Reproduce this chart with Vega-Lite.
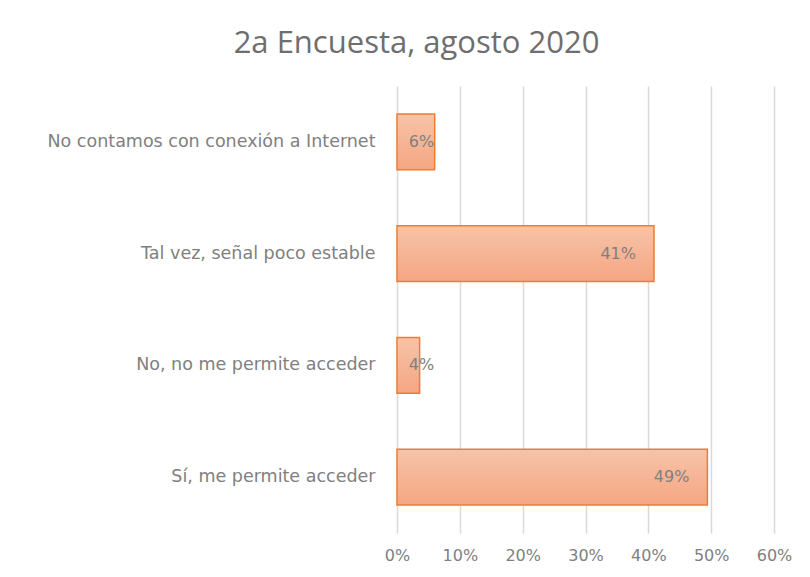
{
  "$schema": "https://vega.github.io/schema/vega-lite/v6.json",
  "width": 377,
  "height": 447,
  "autosize": {"type": "none"},
  "padding": {"left": 397, "top": 86, "right": 36, "bottom": 44},
  "background": "white",
  "title": {
    "text": "2a Encuesta, agosto 2020",
    "anchor": "middle",
    "dx": -169,
    "offset": 26,
    "font": "Open Sans",
    "fontSize": 31,
    "fontWeight": "normal",
    "color": "#6e6e6e"
  },
  "data": {
    "values": [
      {"cat": "No contamos con conexión a Internet", "value": 0.06, "label": "6%"},
      {"cat": "Tal vez, señal poco estable", "value": 0.409, "label": "41%"},
      {"cat": "No, no me permite acceder", "value": 0.036, "label": "4%"},
      {"cat": "Sí, me permite acceder", "value": 0.494, "label": "49%"}
    ]
  },
  "encoding": {
    "y": {
      "field": "cat",
      "type": "nominal",
      "sort": null,
      "scale": {"paddingInner": 0.5, "paddingOuter": 0.25},
      "axis": {
        "title": null,
        "domain": false,
        "ticks": false,
        "labelPadding": 22,
        "labelFont": "DejaVu Sans",
        "labelFontSize": 17.5,
        "labelColor": "#808080",
        "labelLimit": 400
      }
    }
  },
  "layer": [
    {
      "mark": {
        "type": "bar",
        "fill": {
          "gradient": "linear",
          "x1": 0, "y1": 0, "x2": 0, "y2": 1,
          "stops": [
            {"offset": 0, "color": "#F8C3A8"},
            {"offset": 1, "color": "#F4A683"}
          ]
        },
        "stroke": "#ED7D31",
        "strokeWidth": 1.5
      },
      "encoding": {
        "x": {
          "field": "value",
          "type": "quantitative",
          "scale": {"domain": [0, 0.6], "nice": false},
          "axis": {
            "title": null,
            "format": ".0%",
            "values": [0, 0.1, 0.2, 0.3, 0.4, 0.5, 0.6],
            "domain": false,
            "ticks": false,
            "grid": true,
            "gridColor": "#d9d9d9",
            "gridWidth": 1.5,
            "labelFlush": false,
            "labelOverlap": false,
            "labelPadding": 14,
            "labelFont": "DejaVu Sans",
            "labelFontSize": 16,
            "labelColor": "#808080"
          }
        }
      }
    },
    {
      "transform": [
        {"calculate": "max(datum.value - 0.057, 0.039)", "as": "lx"}
      ],
      "mark": {
        "type": "text",
        "align": "center",
        "baseline": "middle",
        "font": "DejaVu Sans",
        "fontSize": 16,
        "color": "#808080"
      },
      "encoding": {
        "x": {"field": "lx", "type": "quantitative"},
        "text": {"field": "label"}
      }
    }
  ],
  "config": {
    "view": {"stroke": null}
  }
}
